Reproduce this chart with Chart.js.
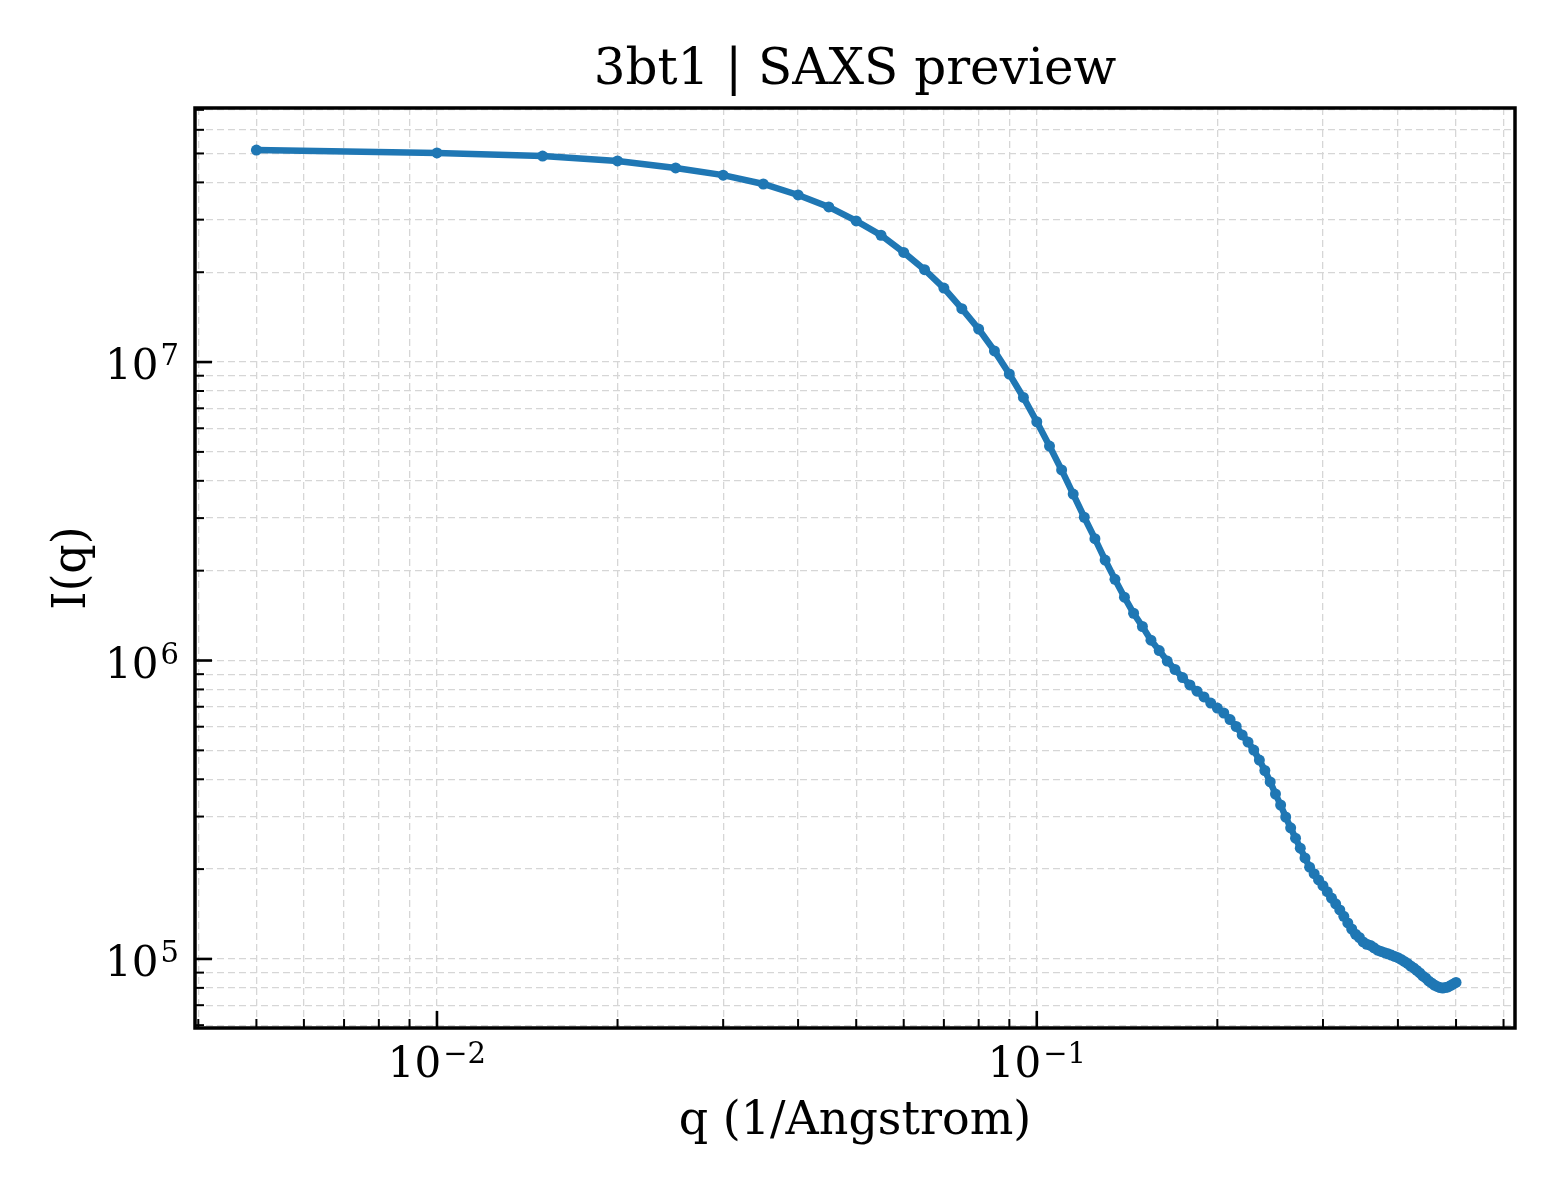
<!DOCTYPE html>
<html>
<head>
<meta charset="utf-8">
<script src="https://cdn.jsdelivr.net/npm/chart.js@4.4.0/dist/chart.umd.min.js"></script>
<style>
  html, body { margin: 0; padding: 0; background: #fff; }
  canvas { display: block; }
</style>
</head>
<body>
<canvas id="saxs" width="1560" height="1200"></canvas>
<script>
// scattering vector q (1/Angstrom)
const q = [
  0.005, 0.010, 0.015, 0.020, 0.025, 0.030, 0.035, 0.040, 0.045, 0.050,
  0.055, 0.060, 0.065, 0.070, 0.075, 0.080, 0.085, 0.090, 0.095, 0.100,
  0.105, 0.110, 0.115, 0.120, 0.125, 0.130, 0.135, 0.140, 0.145, 0.150,
  0.155, 0.160, 0.165, 0.170, 0.175, 0.180, 0.185, 0.190, 0.195, 0.200,
  0.205, 0.210, 0.215, 0.220, 0.225, 0.230, 0.235, 0.240, 0.245, 0.250,
  0.255, 0.260, 0.265, 0.270, 0.275, 0.280, 0.285, 0.290, 0.295, 0.300,
  0.305, 0.310, 0.315, 0.320, 0.325, 0.330, 0.335, 0.340, 0.345, 0.350,
  0.355, 0.360, 0.365, 0.370, 0.375, 0.380, 0.385, 0.390, 0.395, 0.400,
  0.405, 0.410, 0.415, 0.420, 0.425, 0.430, 0.435, 0.440, 0.445, 0.450,
  0.455, 0.460, 0.465, 0.470, 0.475, 0.480, 0.485, 0.490, 0.495, 0.500
];

// I(q)
const intensity = [
  5.13e7, 5.02e7, 4.90e7, 4.72e7, 4.47e7, 4.23e7, 3.95e7, 3.63e7, 3.31e7, 2.97e7,
  2.66e7, 2.33e7, 2.04e7, 1.77e7, 1.51e7, 1.29e7, 1.09e7, 9.12e6, 7.61e6, 6.31e6,
  5.23e6, 4.35e6, 3.61e6, 3.02e6, 2.56e6, 2.17e6, 1.87e6, 1.63e6, 1.44e6, 1.30e6,
  1.17e6, 1.08e6, 9.96e5, 9.33e5, 8.77e5, 8.28e5, 7.89e5, 7.55e5, 7.20e5, 6.93e5,
  6.67e5, 6.34e5, 6.01e5, 5.63e5, 5.33e5, 5.01e5, 4.64e5, 4.28e5, 3.92e5, 3.57e5,
  3.28e5, 2.99e5, 2.75e5, 2.54e5, 2.35e5, 2.18e5, 2.03e5, 1.93e5, 1.84e5, 1.76e5,
  1.68e5, 1.60e5, 1.53e5, 1.46e5, 1.39e5, 1.32e5, 1.26e5, 1.21e5, 1.18e5, 1.14e5,
  1.12e5, 1.11e5, 1.09e5, 1.07e5, 1.06e5, 1.05e5, 1.04e5, 1.03e5, 1.02e5, 1.01e5,
  9.96e4, 9.81e4, 9.66e4, 9.47e4, 9.33e4, 9.15e4, 8.98e4, 8.77e4, 8.64e4, 8.44e4,
  8.31e4, 8.18e4, 8.09e4, 8.02e4, 7.99e4, 8.02e4, 8.06e4, 8.15e4, 8.25e4, 8.34e4
];

// labelled decades: base 10 with these exponents
const xMajorTicks = [0.01, 0.1];
const xMajorExps = ['\u22122', '\u22121'];
const yMajorTicks = [1e5, 1e6, 1e7];
const yMajorExps = ['5', '6', '7'];

const SERIF = "'DejaVu Serif', 'Liberation Serif', serif";
const BLUE = '#1f77b4';

// 1..9 per decade, no 1.5 ticks
function decadeTicks(scale) {
  const out = [];
  const e0 = Math.floor(Math.log10(scale.min));
  const e1 = Math.ceil(Math.log10(scale.max));
  for (let e = e0; e <= e1; e++) {
    for (let m = 1; m <= 9; m++) {
      const v = parseFloat((m * Math.pow(10, e)).toPrecision(6));
      if (v >= scale.min && v <= scale.max) out.push({ value: v, major: m === 1 });
    }
  }
  scale.ticks = out;
}

// matplotlib-ish frame, inward ticks on left/bottom and 10^n labels
const frame = {
  id: 'frame',
  afterDraw(chart) {
    const { ctx, chartArea: a, scales: { x, y } } = chart;
    ctx.save();
    ctx.strokeStyle = '#000';
    ctx.fillStyle = '#000';
    x.ticks.forEach(t => {
      const px = x.getPixelForValue(t.value);
      ctx.lineWidth = t.major ? 2.6 : 2;
      ctx.beginPath();
      ctx.moveTo(px, a.bottom);
      ctx.lineTo(px, a.bottom - (t.major ? 17 : 9));
      ctx.stroke();
    });
    y.ticks.forEach(t => {
      const py = y.getPixelForValue(t.value);
      ctx.lineWidth = t.major ? 2.6 : 2;
      ctx.beginPath();
      ctx.moveTo(a.left, py);
      ctx.lineTo(a.left + (t.major ? 17 : 9), py);
      ctx.stroke();
    });
    ctx.lineWidth = 3.5;
    ctx.strokeRect(a.left, a.top, a.right - a.left, a.bottom - a.top);

    const baseFont = '42px ' + SERIF;
    const expFont = '29px ' + SERIF;
    ctx.textBaseline = 'alphabetic';
    ctx.textAlign = 'left';
    xMajorTicks.forEach((v, i) => {
      const px = x.getPixelForValue(v);
      ctx.font = baseFont;
      const wb = ctx.measureText('10').width;
      ctx.font = expFont;
      const we = ctx.measureText(xMajorExps[i]).width;
      const x0 = px - (wb + 2 + we) / 2;
      ctx.font = baseFont;
      ctx.fillText('10', x0, a.bottom + 49);
      ctx.font = expFont;
      ctx.fillText(xMajorExps[i], x0 + wb + 2, a.bottom + 35);
    });
    yMajorTicks.forEach((v, i) => {
      const py = y.getPixelForValue(v);
      ctx.font = expFont;
      const we = ctx.measureText(yMajorExps[i]).width;
      const xe = a.left - 16 - we;
      ctx.fillText(yMajorExps[i], xe, py + 3);
      ctx.font = baseFont;
      const wb = ctx.measureText('10').width;
      ctx.fillText('10', xe - 2 - wb, py + 17);
    });
    ctx.restore();
  }
};

const gridStyle = { color: '#d6d6d6', lineWidth: 1.3, drawTicks: false };

new Chart(document.getElementById('saxs'), {
  type: 'line',
  data: {
    datasets: [{
      data: q.map((v, i) => ({ x: v, y: intensity[i] })),
      borderColor: BLUE,
      backgroundColor: BLUE,
      borderWidth: 6.5,
      pointRadius: 5.5,
      pointBorderWidth: 0,
      pointBackgroundColor: BLUE,
      tension: 0
    }]
  },
  options: {
    responsive: false,
    animation: false,
    devicePixelRatio: 1,
    layout: { padding: { left: 0, right: 45, top: 0, bottom: 0 } },
    plugins: {
      legend: { display: false },
      tooltip: { enabled: false },
      title: {
        display: true,
        fullSize: false,
        text: '3bt1 | SAXS preview',
        color: '#000',
        font: { family: SERIF, size: 50, weight: 'normal', lineHeight: 1.2 },
        padding: { top: 41, bottom: 7 }
      }
    },
    scales: {
      x: {
        type: 'logarithmic',
        min: 0.00395,
        max: 0.627,
        afterBuildTicks: decadeTicks,
        afterFit: s => { s.height = 172; },
        grid: gridStyle,
        border: { display: false, dash: [7, 4] },
        ticks: { display: false, autoSkip: false },
        title: {
          display: true,
          text: 'q (1/Angstrom)',
          color: '#000',
          font: { family: SERIF, size: 46, lineHeight: 1.2 },
          padding: { top: 0, bottom: 50 }
        }
      },
      y: {
        type: 'logarithmic',
        min: 5.87e4,
        max: 7.1e7,
        afterBuildTicks: decadeTicks,
        afterFit: s => { s.width = 195; },
        grid: gridStyle,
        border: { display: false, dash: [7, 4] },
        ticks: { display: false, autoSkip: false },
        title: {
          display: true,
          text: 'I(q)',
          color: '#000',
          font: { family: SERIF, size: 46, lineHeight: 1.2 },
          padding: { top: 45, bottom: 0 }
        }
      }
    }
  },
  plugins: [frame]
});
</script>
</body>
</html>
